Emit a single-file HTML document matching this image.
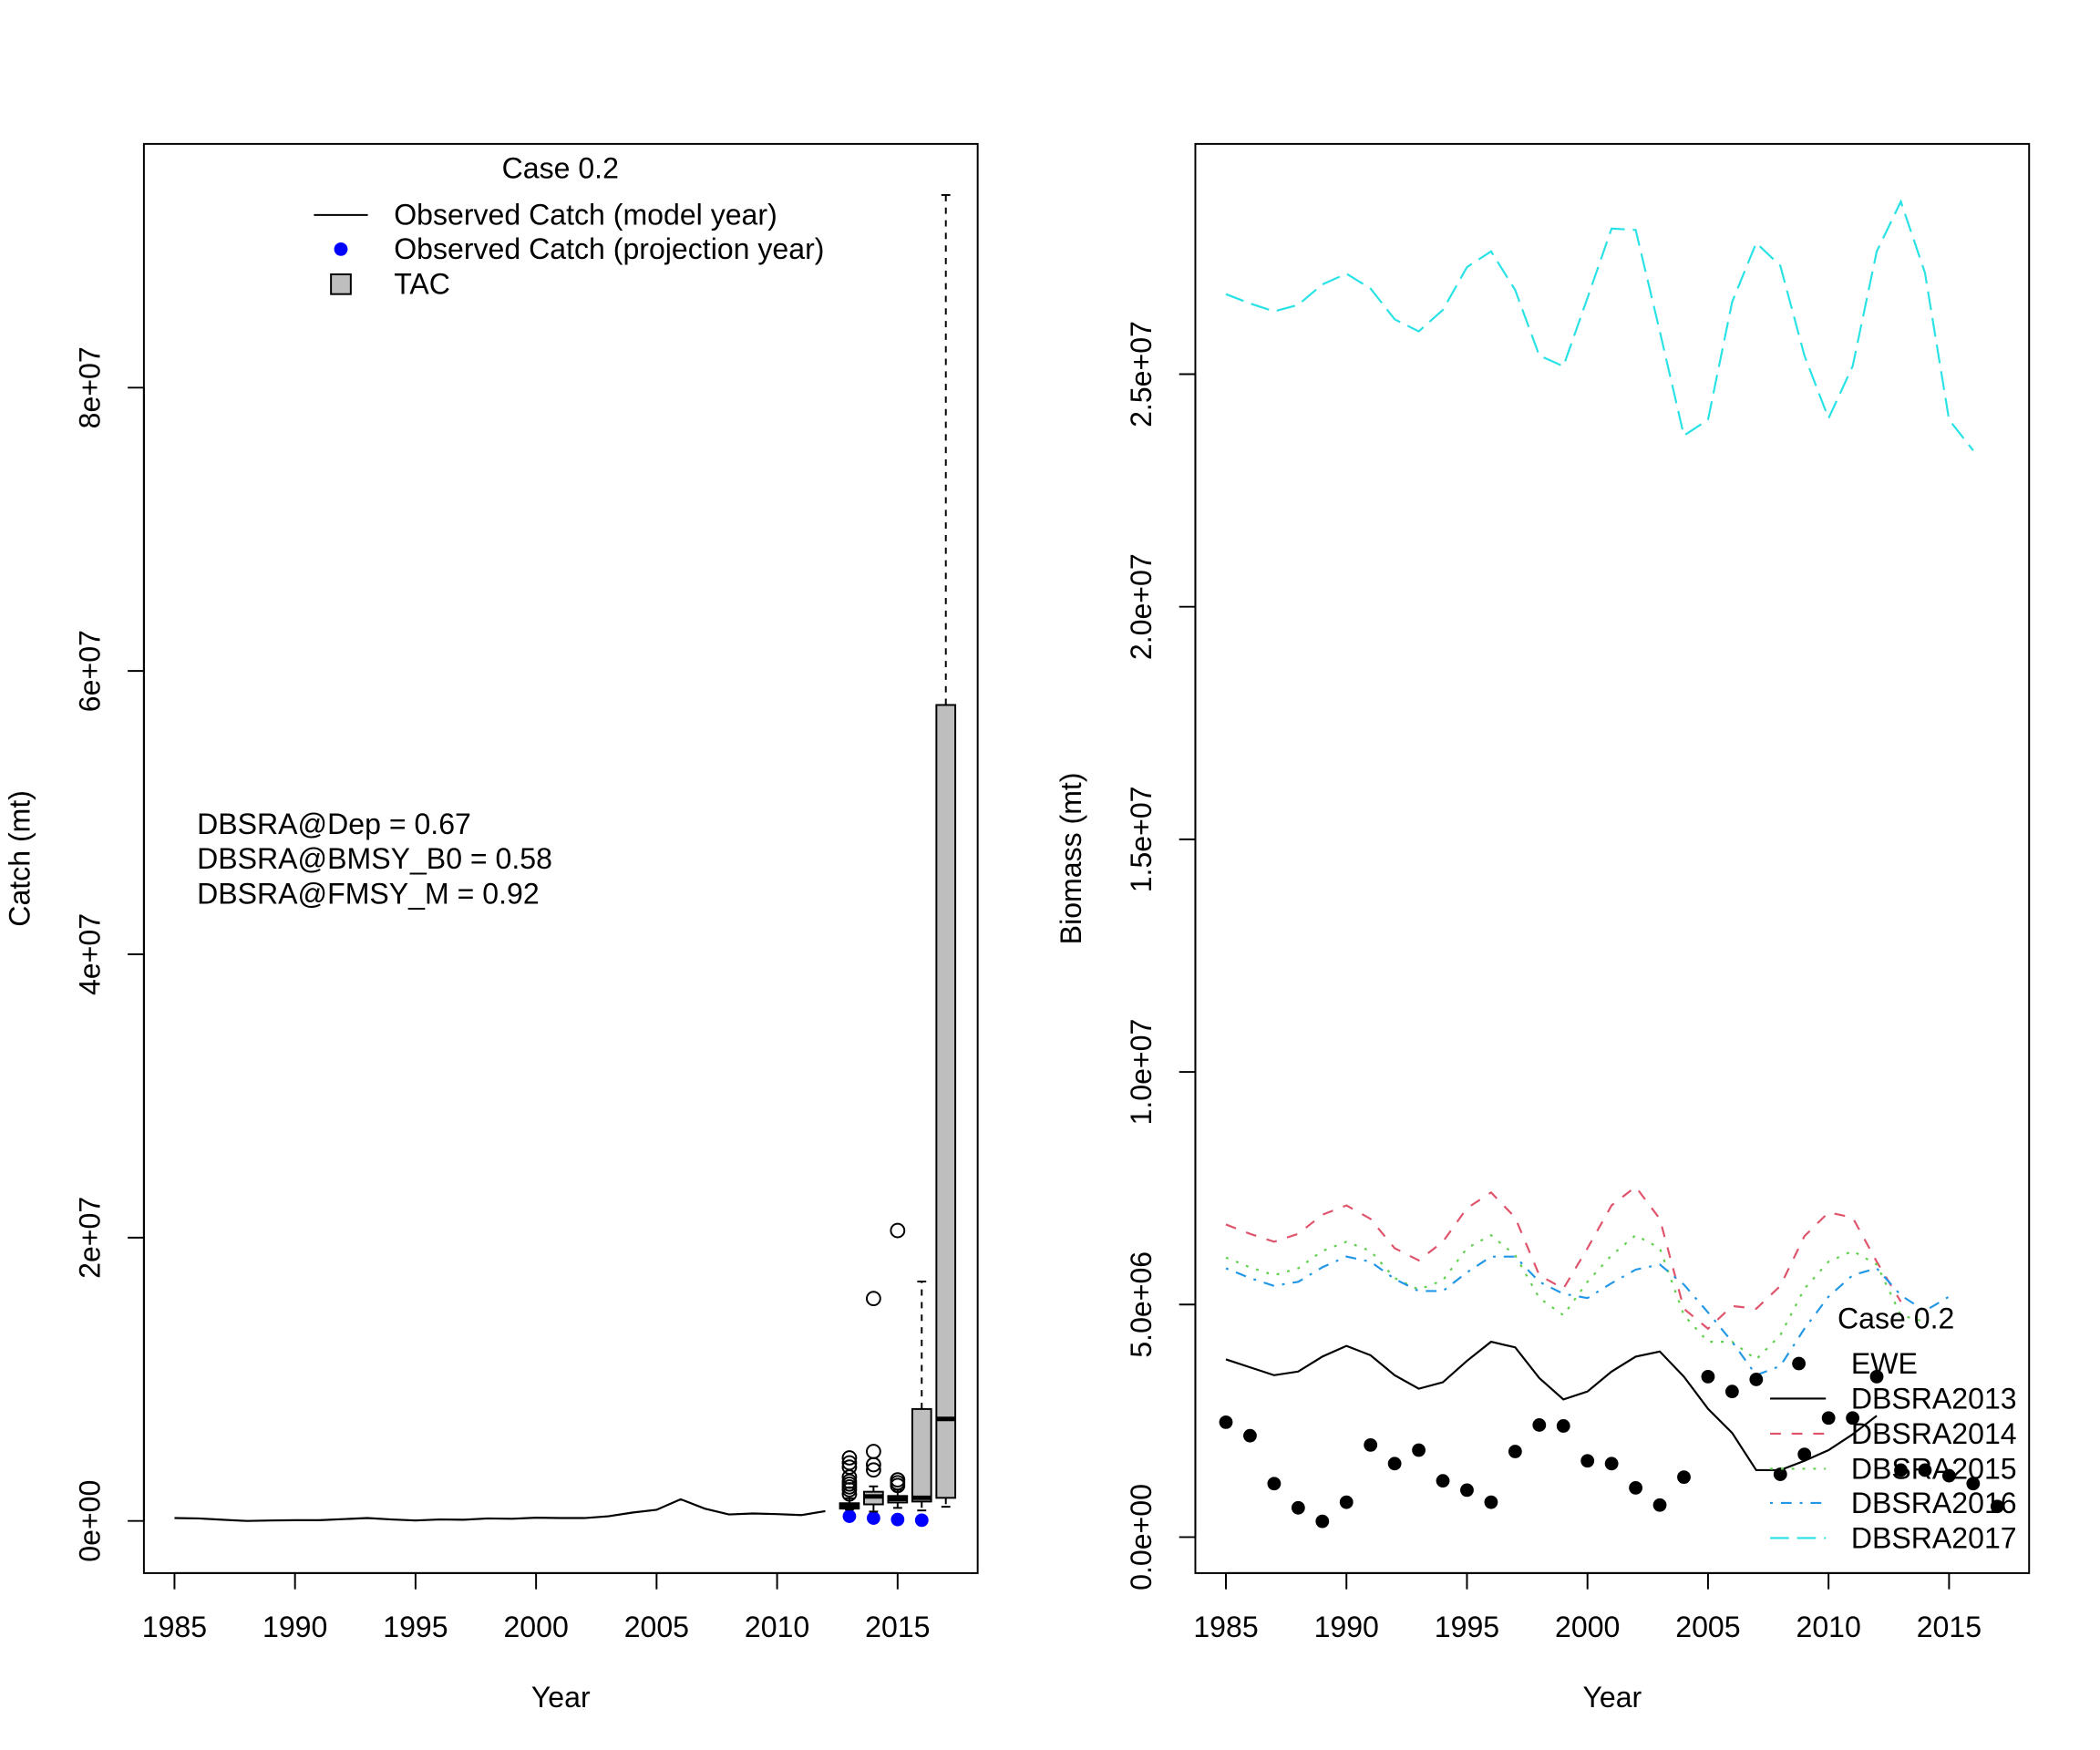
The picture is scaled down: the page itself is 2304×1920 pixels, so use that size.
<!DOCTYPE html>
<html><head><meta charset="utf-8"><style>
html,body{margin:0;padding:0;background:#fff;}
svg{display:block;font-family:"Liberation Sans",Arial,sans-serif;}
</style></head><body>
<svg id="fig" width="2304" height="1920" viewBox="0 0 2304 1920" xmlns="http://www.w3.org/2000/svg"><g id="root" transform="scale(0.9868)"></g></svg>
<script>
// ---------- data ----------
const catchYears = [1985,1986,1987,1988,1989,1990,1991,1992,1993,1994,1995,1996,1997,1998,1999,2000,2001,2002,2003,2004,2005,2006,2007,2008,2009,2010,2011,2012];
const catchValues = [0.2,0.18,0.08,0,0.03,0.05,0.05,0.13,0.2,0.1,0.03,0.1,0.08,0.18,0.15,0.23,0.2,0.2,0.33,0.59,0.79,1.53,0.87,0.46,0.53,0.48,0.41,0.69]; // millions
const projYears = [2013,2014,2015,2016];
const projValues = [0.33,0.2,0.1,0.05];
const tacYears = [2013,2014,2015,2016,2017];
const tacLow = [0.8,0.66,0.92,0.74,1.0];
const tacQ1 = [0.87,1.17,1.3,1.37,1.63];
const tacMed = [1.04,1.73,1.55,1.63,7.2];
const tacQ3 = [1.25,2.06,1.76,7.9,57.6];
const tacHigh = [1.6,2.44,2.19,16.9,93.6];
const tacOutliers = [[4.45,4.1,3.8,3.1,2.8,2.6,2.4,2.2,1.9],[15.7,4.9,3.97,3.6],[20.5,2.9,2.7,2.5],[],[]];
const leftYTicks = [0,20,40,60,80];
const leftYLabels = ["0e+00","2e+07","4e+07","6e+07","8e+07"];
const xTicks = [1985,1990,1995,2000,2005,2010,2015];

const bioYears = [1985,1986,1987,1988,1989,1990,1991,1992,1993,1994,1995,1996,1997,1998,1999,2000,2001,2002,2003,2004,2005,2006,2007,2008,2009,2010,2011,2012,2013,2014,2015,2016,2017];
const ewe = [2.47,2.18,1.15,0.63,0.34,0.75,1.98,1.58,1.87,1.21,1.01,0.75,1.84,2.41,2.39,1.64,1.58,1.06,0.69,1.29,3.45,3.13,3.39,1.35,1.78,2.56,2.56,3.45,1.44,1.44,1.32,1.15,0.66];
const dbsra2013 = [3.82,3.65,3.48,3.56,3.88,4.11,3.91,3.48,3.19,3.33,3.79,4.20,4.08,3.42,2.96,3.13,3.56,3.88,3.99,3.45,2.76,2.24,1.44,1.44,1.64,1.87,2.21,2.61];
const dbsra2014 = [6.72,6.52,6.35,6.52,6.93,7.13,6.84,6.21,5.95,6.35,7.07,7.41,6.87,5.63,5.34,6.21,7.13,7.53,6.84,4.91,4.48,4.97,4.91,5.40,6.47,6.98,6.87,5.92,5.06];
const dbsra2015 = [6.01,5.80,5.63,5.78,6.15,6.35,6.15,5.57,5.32,5.52,6.21,6.49,6.06,5.14,4.77,5.49,6.06,6.49,6.21,4.77,4.20,4.20,3.82,4.34,5.34,5.92,6.15,5.86,4.77,4.63];
const dbsra2016 = [5.78,5.57,5.40,5.49,5.80,6.03,5.92,5.55,5.29,5.29,5.69,6.03,6.03,5.49,5.23,5.14,5.46,5.75,5.86,5.43,4.83,4.20,3.48,3.68,4.48,5.17,5.63,5.78,5.20,4.86,5.17];
const dbsra2017 = [26.72,26.52,26.35,26.49,26.93,27.16,26.84,26.18,25.92,26.38,27.30,27.64,26.81,25.40,25.17,26.64,28.13,28.10,25.92,23.68,24.02,26.55,27.82,27.33,25.40,24.05,25.17,27.64,28.71,27.18,24.02,23.36];
const rightYTicks = [0,5,10,15,20,25];
const rightYLabels = ["0.0e+00","5.0e+06","1.0e+07","1.5e+07","2.0e+07","2.5e+07"];

// ---------- helpers ----------
const NS="http://www.w3.org/2000/svg";
const svg=document.getElementById('root');
function el(tag,attrs,parent){const e=document.createElementNS(NS,tag);for(const k in attrs)e.setAttribute(k,attrs[k]);(parent||svg).appendChild(e);return e;}
function txt(s,attrs,parent){const e=el('text',attrs,parent);e.textContent=s;return e;}
const FS=32.5;

const L={x0:160,x1:1087,y0:160,y1:1749};
const R={x0:1329,x1:2256,y0:160,y1:1749};
function lx(y){return 194+(y-1985)*(998-194)/30;}
function ly(v){return 1691-v*(315/20);}
function rx(y){return 1363+(y-1985)*(2167-1363)/30;}
function ry(v){return 1709-v*(258.6/5);}

function frame(P,name){
  const r=el('rect',{x:P.x0,y:P.y0,width:P.x1-P.x0,height:P.y1-P.y0,fill:'none',stroke:'#000','stroke-width':2});
  
  
}
function xAxis(P,sx,name){
  const g=el('g',{});
  
  
  el('line',{x1:sx(xTicks[0]),x2:sx(xTicks[xTicks.length-1]),y1:P.y1,y2:P.y1,stroke:'#000','stroke-width':2},g);
  xTicks.forEach(t=>{
    el('line',{x1:sx(t),x2:sx(t),y1:P.y1,y2:P.y1+18,stroke:'#000','stroke-width':2},g);
    const l=txt(String(t),{x:sx(t),y:P.y1+71,'font-size':FS,'text-anchor':'middle'},g);
    
    
  });
  const t=txt('Year',{x:(P.x0+P.x1)/2,y:1898,'font-size':FS,'text-anchor':'middle'},g);
  
  
}
function yAxis(P,sy,ticks,labels,lblX,title,titleX,name){
  const g=el('g',{});
  
  
  el('line',{x1:P.x0,x2:P.x0,y1:sy(ticks[0]),y2:sy(ticks[ticks.length-1]),stroke:'#000','stroke-width':2},g);
  ticks.forEach((t,i)=>{
    const y=sy(t);
    el('line',{x1:P.x0-18,x2:P.x0,y1:y,y2:y,stroke:'#000','stroke-width':2},g);
    const l=txt(labels[i],{x:lblX,y:y,'font-size':FS,'text-anchor':'middle',transform:`rotate(-90 ${lblX} ${y})`},g);
    
    
  });
  const cy=(P.y0+P.y1)/2;
  const t=txt(title,{x:titleX,y:cy,'font-size':FS,'text-anchor':'middle',transform:`rotate(-90 ${titleX} ${cy})`},g);
  
  
}
function poly(xs,ys,sx,sy,color,dash,name){
  const pts=ys.map((v,i)=>sx(xs[i]).toFixed(1)+','+sy(v).toFixed(1)).join(' ');
  const p=el('polyline',{points:pts,fill:'none',stroke:color,'stroke-width':2.2,'stroke-dasharray':dash||'none'});
  
  
  return p;
}

// ---------- left panel ----------
frame(L,'catch-plot-frame');
xAxis(L,lx,'catch-x-axis');
yAxis(L,ly,leftYTicks,leftYLabels,111,'Catch (mt)',33,'catch-y-axis');
poly(catchYears,catchValues,lx,ly,'#000',null,'observed-catch-line');
projYears.forEach((y,i)=>{
  const c=el('circle',{cx:lx(y),cy:ly(projValues[i]),r:7.5,fill:'#0000ff'});
  
  
});
tacYears.forEach((y,i)=>{
  const g=el('g',{});
  
  
  const cx=lx(y),hw=10.5,cw=5;
  el('line',{x1:cx,x2:cx,y1:ly(tacQ3[i]),y2:ly(tacHigh[i]),stroke:'#000','stroke-width':2,'stroke-dasharray':'7 7'},g);
  el('line',{x1:cx,x2:cx,y1:ly(tacQ1[i]),y2:ly(tacLow[i]),stroke:'#000','stroke-width':2,'stroke-dasharray':'7 7'},g);
  el('line',{x1:cx-cw,x2:cx+cw,y1:ly(tacHigh[i]),y2:ly(tacHigh[i]),stroke:'#000','stroke-width':2},g);
  el('line',{x1:cx-cw,x2:cx+cw,y1:ly(tacLow[i]),y2:ly(tacLow[i]),stroke:'#000','stroke-width':2},g);
  el('rect',{x:cx-hw,y:ly(tacQ3[i]),width:2*hw,height:Math.max(1,ly(tacQ1[i])-ly(tacQ3[i])),fill:'#bebebe',stroke:'#000','stroke-width':2},g);
  el('line',{x1:cx-hw,x2:cx+hw,y1:ly(tacMed[i]),y2:ly(tacMed[i]),stroke:'#000','stroke-width':5},g);
  tacOutliers[i].forEach(o=>{
    const c=el('circle',{cx:cx,cy:ly(o),r:7.5,fill:'none',stroke:'#000','stroke-width':2},g);
    
    
  });
});
(function(){
  const g=el('g',{});
  
  
  txt('Case 0.2',{x:623,y:198,'font-size':FS,'text-anchor':'middle'},g);
  const rows=[239,277,316];
  el('line',{x1:349,x2:409,y1:rows[0],y2:rows[0],stroke:'#000','stroke-width':2},g);
  el('circle',{cx:379,cy:rows[1],r:7.5,fill:'#0000ff'},g);
  el('rect',{x:368,y:rows[2]-11,width:22,height:22,fill:'#bebebe',stroke:'#000','stroke-width':2},g);
  ['Observed Catch (model year)','Observed Catch (projection year)','TAC'].forEach((s,i)=>{
    const t=txt(s,{x:438,y:rows[i]+11,'font-size':FS},g);
    
    
  });
})();
(function(){
  const g=el('g',{});
  
  
  ['DBSRA@Dep = 0.67','DBSRA@BMSY_B0 = 0.58','DBSRA@FMSY_M = 0.92'].forEach((s,i)=>{
    txt(s,{x:219,y:927+i*39,'font-size':FS},g);
  });
})();

// ---------- right panel ----------
frame(R,'biomass-plot-frame');
xAxis(R,rx,'biomass-x-axis');
yAxis(R,ry,rightYTicks,rightYLabels,1280,'Biomass (mt)',1202,'biomass-y-axis');
poly(bioYears.slice(0,dbsra2013.length),dbsra2013,rx,ry,'#000',null,'dbsra2013-line');
poly(bioYears.slice(0,dbsra2014.length),dbsra2014,rx,ry,'#DF536B','12 12','dbsra2014-line');
poly(bioYears.slice(0,dbsra2015.length),dbsra2015,rx,ry,'#61D04F','3 9','dbsra2015-line');
poly(bioYears.slice(0,dbsra2016.length),dbsra2016,rx,ry,'#2297E6','3 9 12 9','dbsra2016-line');
poly(bioYears.slice(0,dbsra2017.length),dbsra2017,rx,ry,'#28E2E5','21 9','dbsra2017-line');
ewe.forEach((v,i)=>{
  const c=el('circle',{cx:rx(bioYears[i]),cy:ry(v),r:7.5,fill:'#000'});
  
  
});
(function(){
  const g=el('g',{});
  
  
  txt('Case 0.2',{x:2108,y:1477,'font-size':FS,'text-anchor':'middle'},g);
  const rows=[1516,1555,1594,1633,1671,1710];
  const names=['EWE','DBSRA2013','DBSRA2014','DBSRA2015','DBSRA2016','DBSRA2017'];
  const cols=['#000','#000','#DF536B','#61D04F','#2297E6','#28E2E5'];
  const dashes=[null,'none','12 12','3 9','3 9 12 9','21 9'];
  el('circle',{cx:2000,cy:rows[0],r:7.5,fill:'#000'},g);
  for(let i=1;i<6;i++){
    el('line',{x1:1968,x2:2030,y1:rows[i],y2:rows[i],stroke:cols[i],'stroke-width':2.2,'stroke-dasharray':dashes[i]},g);
  }
  names.forEach((s,i)=>{
    const t=txt(s,{x:2058,y:rows[i]+11,'font-size':FS},g);
    
    
  });
})();
</script>
</body></html>
